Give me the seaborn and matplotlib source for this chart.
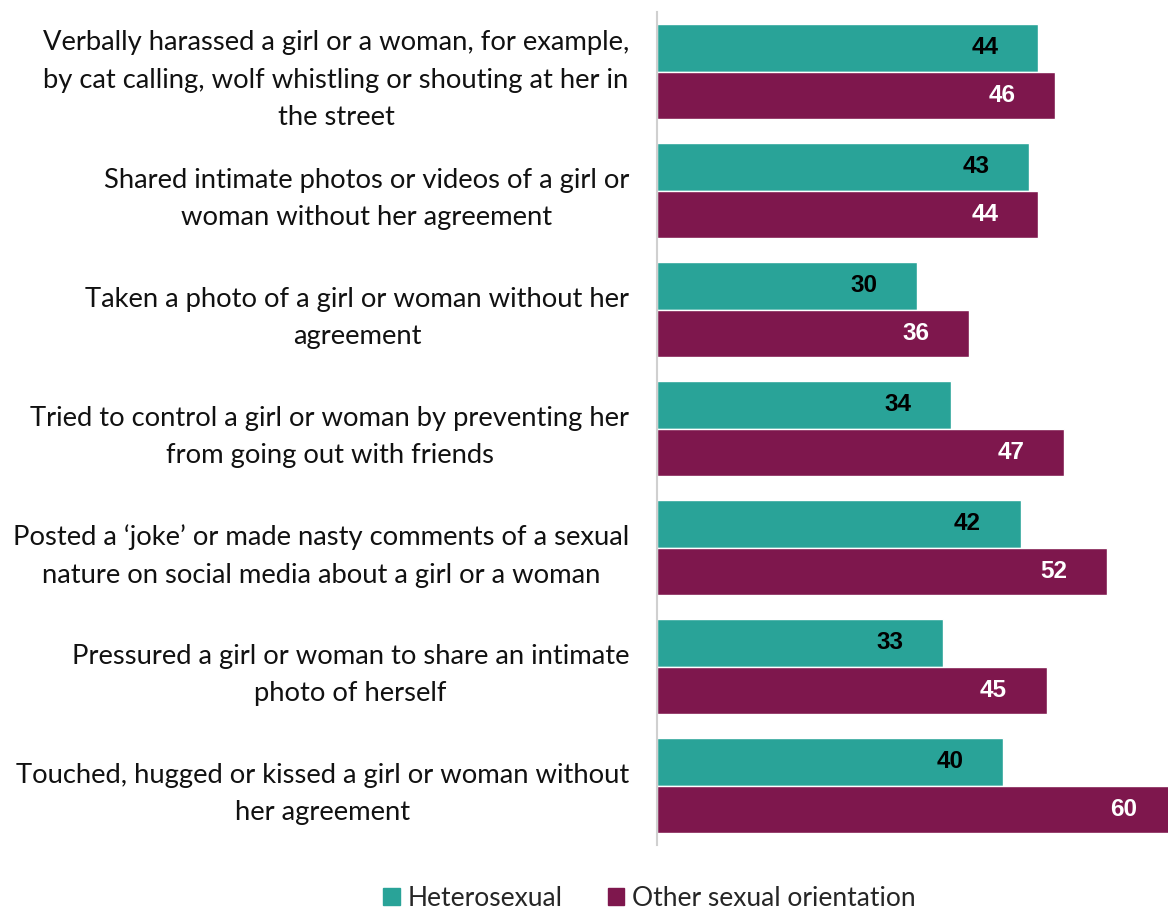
import numpy as np
import pandas as pd
import seaborn as sns
import matplotlib.pyplot as plt

categories = [
    "Verbally harassed a girl or a woman, for example,\nby cat calling, wolf whistling or shouting at her in\nthe street",
    "Shared intimate photos or videos of a girl or\nwoman without her agreement",
    "Taken a photo of a girl or woman without her\nagreement",
    "Tried to control a girl or woman by preventing her\nfrom going out with friends",
    "Posted a \u2018joke\u2019 or made nasty comments of a sexual\nnature on social media about a girl or a woman",
    "Pressured a girl or woman to share an intimate\nphoto of herself",
    "Touched, hugged or kissed a girl or woman without\nher agreement",
]
hetero = [44, 43, 30, 34, 42, 33, 40]
other = [46, 44, 36, 47, 52, 45, 60]
groups = ["Heterosexual", "Other sexual orientation"]
colors = ["#29A398", "#7E174D"]

df = pd.DataFrame({
    "item": categories * 2,
    "group": [groups[0]] * len(categories) + [groups[1]] * len(categories),
    "value": hetero + other,
})

sns.set_theme(style="white")
plt.rcParams['font.family'] = ['Lato', 'DejaVu Sans']

fig = plt.figure(figsize=(11.68, 9.1), dpi=100)
ax = fig.add_axes([0.5625, 0.0714, 0.4375, 0.9154])

sns.barplot(data=df, y="item", x="value", hue="group", palette=colors,
            order=categories, hue_order=groups, orient="h", width=0.8,
            saturation=1, ax=ax, legend=False)

# value labels inside bar ends
for cont, tc in zip(ax.containers, ["black", "white"]):
    ax.bar_label(cont, labels=[f"{v:.0f}" for v in cont.datavalues],
                 label_type="edge", padding=-48, color=tc,
                 fontproperties={"family": "Liberation Sans", "weight": "bold", "size": 17.5},
                 annotation_clip=False)

ax.set_xlim(0, 59)
ax.set_ylim(6.5, -0.5)
ax.set_xlabel("")
ax.set_ylabel("")
ax.set_xticks([])
ax.tick_params(axis="y", length=0, pad=20)
for lab in ax.get_yticklabels():
    lab.set_multialignment("center")
    lab.set_fontsize(19.7)
    lab.set_linespacing(1.62)
    lab.set_color("#111111")
for s in ["top", "right", "bottom"]:
    ax.spines[s].set_visible(False)
ax.spines["left"].set_color("#d0d0d0")
ax.spines["left"].set_linewidth(1.5)

handles = [plt.Rectangle((0, 0), 1, 1, color=c) for c in colors]
fig.legend(handles, groups, loc="center", bbox_to_anchor=(0.556, 0.013),
           ncol=2, frameon=False, fontsize=19, handlelength=0.62,
           handleheight=0.62, handletextpad=0.3, columnspacing=1.7,
           borderpad=0.1)

fig.savefig("out.png", dpi=100)
